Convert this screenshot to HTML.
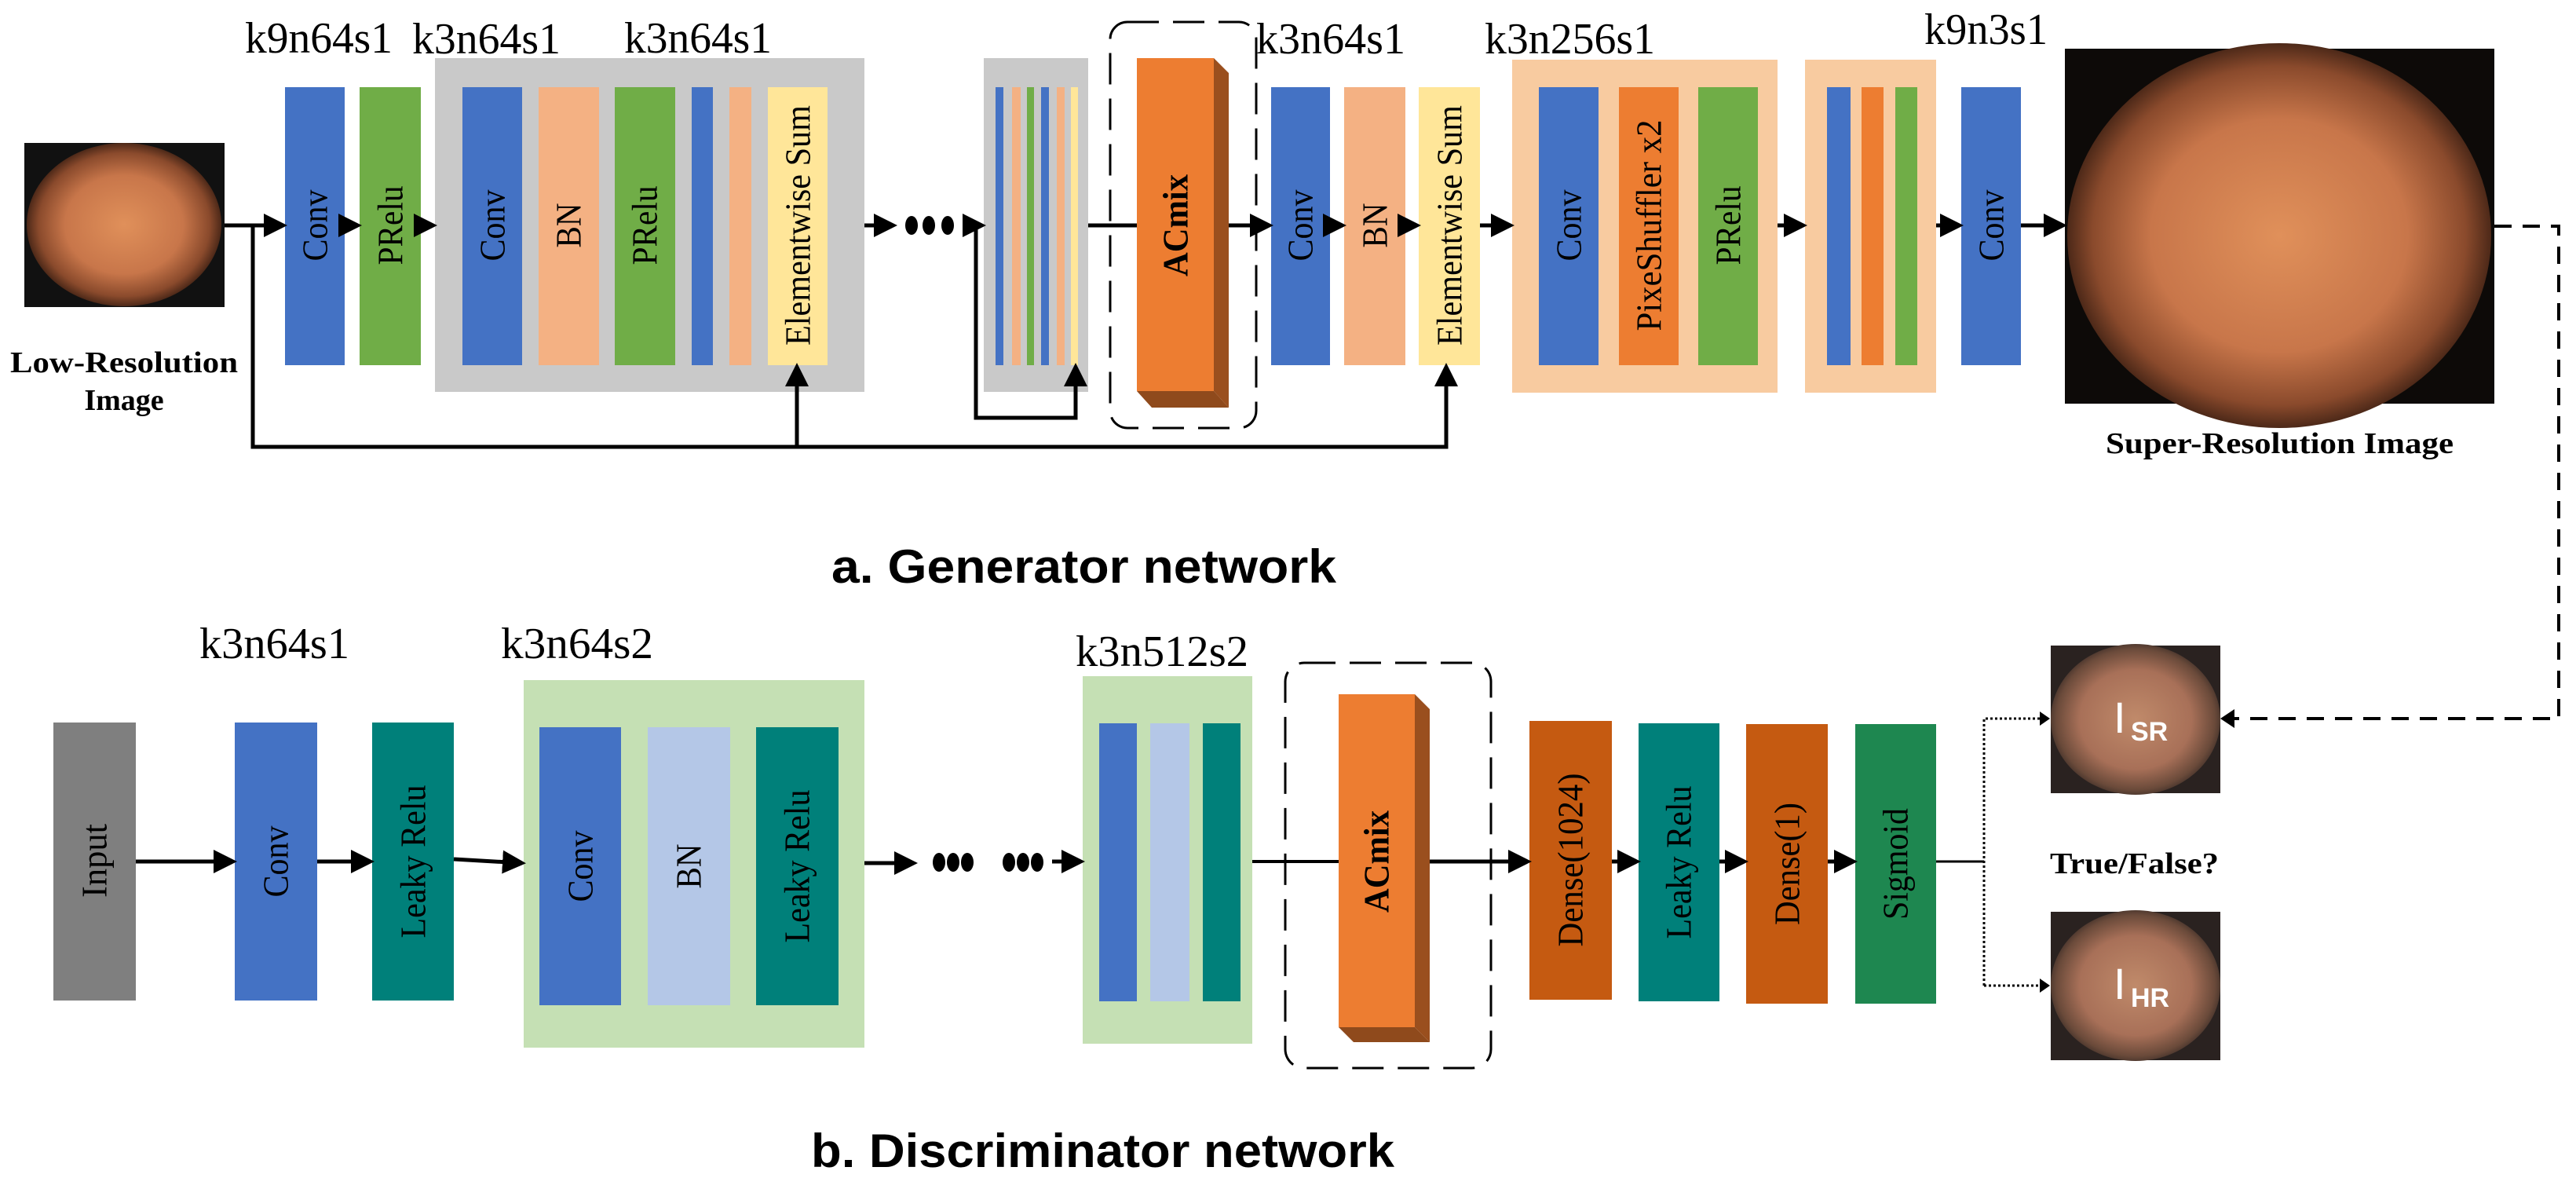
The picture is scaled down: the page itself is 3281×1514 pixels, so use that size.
<!DOCTYPE html>
<html><head><meta charset="utf-8"><style>
html,body{margin:0;padding:0;background:#fff;}
svg{display:block;}
.t{font-family:"Liberation Serif",serif;fill:#000;}
.b{font-family:"Liberation Sans",sans-serif;font-weight:bold;fill:#000;}
</style></head><body>
<svg width="3281" height="1514" viewBox="0 0 3281 1514" xmlns="http://www.w3.org/2000/svg">
<defs>
<marker id="ah" markerWidth="6" markerHeight="6" refX="5" refY="3" orient="auto" markerUnits="strokeWidth">
<path d="M0,0 L6,3 L0,6 Z" fill="#000"/></marker>
<radialGradient id="endo" cx="0.5" cy="0.5" r="0.55">
<stop offset="0" stop-color="#e0905a"/><stop offset="0.55" stop-color="#c8764a"/><stop offset="0.8" stop-color="#8a4a2c"/><stop offset="1" stop-color="#1a0d08"/></radialGradient>
<radialGradient id="endo2" cx="0.5" cy="0.5" r="0.55">
<stop offset="0" stop-color="#c08a6a"/><stop offset="0.6" stop-color="#a87058"/><stop offset="0.85" stop-color="#6a4a3a"/><stop offset="1" stop-color="#2a2220"/></radialGradient>
</defs>

<!-- ===== Generator ===== -->
<rect x="31" y="182" width="255" height="209" fill="#111"/>
<ellipse cx="158" cy="286" rx="124" ry="104" fill="url(#endo)"/>
<text class="t" font-weight="bold" font-size="38" x="158" y="474" text-anchor="middle" textLength="290" lengthAdjust="spacingAndGlyphs">Low-Resolution</text>
<text class="t" font-weight="bold" font-size="38" x="158" y="522" text-anchor="middle">Image</text>

<text class="t" font-size="56" x="312" y="67" textLength="188" lengthAdjust="spacingAndGlyphs">k9n64s1</text>
<text class="t" font-size="56" x="525" y="68" textLength="189" lengthAdjust="spacingAndGlyphs">k3n64s1</text>
<text class="t" font-size="56" x="795" y="67" textLength="188" lengthAdjust="spacingAndGlyphs">k3n64s1</text>
<text class="t" font-size="56" x="1600" y="68" textLength="190" lengthAdjust="spacingAndGlyphs">k3n64s1</text>
<text class="t" font-size="56" x="1891" y="68" textLength="217" lengthAdjust="spacingAndGlyphs">k3n256s1</text>
<text class="t" font-size="56" x="2451" y="56" textLength="157" lengthAdjust="spacingAndGlyphs">k9n3s1</text>

<rect x="363" y="111" width="76" height="354" fill="#4472c4"/>
<rect x="458" y="111" width="78" height="354" fill="#70ad47"/>
<rect x="554" y="74" width="547" height="425" fill="#c9c9c9"/>
<rect x="589" y="111" width="76" height="354" fill="#4472c4"/>
<rect x="686" y="111" width="77" height="354" fill="#f4b183"/>
<rect x="783" y="111" width="77" height="354" fill="#70ad47"/>
<rect x="881" y="111" width="27" height="354" fill="#4472c4"/>
<rect x="929" y="111" width="28" height="354" fill="#f4b183"/>
<rect x="978" y="111" width="76" height="354" fill="#ffe699"/>
<rect x="1253" y="74" width="133" height="425" fill="#c9c9c9"/>
<rect x="1268" y="111" width="10" height="354" fill="#4472c4"/>
<rect x="1289" y="111" width="11" height="354" fill="#f4b183"/>
<rect x="1308" y="111" width="9" height="354" fill="#70ad47"/>
<rect x="1326" y="111" width="10" height="354" fill="#4472c4"/>
<rect x="1346" y="111" width="10" height="354" fill="#f4b183"/>
<rect x="1364" y="111" width="9" height="354" fill="#ffe699"/>
<rect x="1414" y="28" width="186" height="517" rx="22" fill="none" stroke="#000" stroke-width="3" stroke-dasharray="40,18"/>
<polygon points="1546,74 1565,93 1565,519 1546,498" fill="#9a4f1e"/>
<polygon points="1448,498 1546,498 1565,519 1467,519" fill="#8f4a1c"/>
<rect x="1448" y="74" width="98" height="424" fill="#ed7d31"/>
<rect x="1619" y="111" width="75" height="354" fill="#4472c4"/>
<rect x="1712" y="111" width="78" height="354" fill="#f4b183"/>
<rect x="1807" y="111" width="78" height="354" fill="#ffe699"/>
<rect x="1926" y="76" width="338" height="424" fill="#f8cba0"/>
<rect x="1960" y="111" width="76" height="354" fill="#4472c4"/>
<rect x="2062" y="111" width="76" height="354" fill="#ed7d31"/>
<rect x="2163" y="111" width="76" height="354" fill="#70ad47"/>
<rect x="2299" y="76" width="167" height="424" fill="#f8cba0"/>
<rect x="2327" y="111" width="30" height="354" fill="#4472c4"/>
<rect x="2371" y="111" width="28" height="354" fill="#ed7d31"/>
<rect x="2414" y="111" width="28" height="354" fill="#70ad47"/>
<rect x="2498" y="111" width="76" height="354" fill="#4472c4"/>
<rect x="2630" y="62" width="547" height="452" fill="#0d0a08"/>
<ellipse cx="2903" cy="300" rx="270" ry="245" fill="url(#endo)"/>
<text class="t" font-weight="bold" font-size="38" x="2682" y="577" textLength="443" lengthAdjust="spacingAndGlyphs">Super-Resolution Image</text>

<g class="t" font-size="46">
<text transform="translate(401,287) rotate(-90)" text-anchor="middle" dominant-baseline="central" textLength="91" lengthAdjust="spacingAndGlyphs">Conv</text>
<text transform="translate(497,287) rotate(-90)" text-anchor="middle" dominant-baseline="central" textLength="101" lengthAdjust="spacingAndGlyphs">PRelu</text>
<text transform="translate(627,287) rotate(-90)" text-anchor="middle" dominant-baseline="central" textLength="91" lengthAdjust="spacingAndGlyphs">Conv</text>
<text transform="translate(724,287) rotate(-90)" text-anchor="middle" dominant-baseline="central" textLength="57" lengthAdjust="spacingAndGlyphs">BN</text>
<text transform="translate(821,287) rotate(-90)" text-anchor="middle" dominant-baseline="central" textLength="101" lengthAdjust="spacingAndGlyphs">PRelu</text>
<text transform="translate(1016,287) rotate(-90)" text-anchor="middle" dominant-baseline="central" textLength="306" lengthAdjust="spacingAndGlyphs">Elementwise Sum</text>
<text transform="translate(1497,287) rotate(-90)" text-anchor="middle" dominant-baseline="central" font-weight="bold" textLength="130" lengthAdjust="spacingAndGlyphs">ACmix</text>
<text transform="translate(1656,287) rotate(-90)" text-anchor="middle" dominant-baseline="central" textLength="91" lengthAdjust="spacingAndGlyphs">Conv</text>
<text transform="translate(1751,287) rotate(-90)" text-anchor="middle" dominant-baseline="central" textLength="57" lengthAdjust="spacingAndGlyphs">BN</text>
<text transform="translate(1846,287) rotate(-90)" text-anchor="middle" dominant-baseline="central" textLength="306" lengthAdjust="spacingAndGlyphs">Elementwise Sum</text>
<text transform="translate(1998,287) rotate(-90)" text-anchor="middle" dominant-baseline="central" textLength="91" lengthAdjust="spacingAndGlyphs">Conv</text>
<text transform="translate(2100,287) rotate(-90)" text-anchor="middle" dominant-baseline="central" textLength="269" lengthAdjust="spacingAndGlyphs">PixeShuffler x2</text>
<text transform="translate(2201,287) rotate(-90)" text-anchor="middle" dominant-baseline="central" textLength="101" lengthAdjust="spacingAndGlyphs">PRelu</text>
<text transform="translate(2536,287) rotate(-90)" text-anchor="middle" dominant-baseline="central" textLength="91" lengthAdjust="spacingAndGlyphs">Conv</text>
</g>

<g stroke="#000" stroke-width="5" fill="none">
<line x1="286" y1="287" x2="361" y2="287" marker-end="url(#ah)"/>
<line x1="439" y1="287" x2="456" y2="287" marker-end="url(#ah)"/>
<line x1="536" y1="287" x2="552" y2="287" marker-end="url(#ah)"/>
<line x1="1101" y1="287" x2="1138" y2="287" marker-end="url(#ah)"/>
<line x1="1230" y1="287" x2="1251" y2="287" marker-end="url(#ah)"/>
<line x1="1386" y1="287" x2="1448" y2="287"/>
<line x1="1565" y1="287" x2="1617" y2="287" marker-end="url(#ah)"/>
<line x1="1694" y1="287" x2="1710" y2="287" marker-end="url(#ah)"/>
<line x1="1790" y1="287" x2="1805" y2="287" marker-end="url(#ah)"/>
<line x1="1885" y1="287" x2="1924" y2="287" marker-end="url(#ah)"/>
<line x1="2264" y1="287" x2="2297" y2="287" marker-end="url(#ah)"/>
<line x1="2466" y1="287" x2="2496" y2="287" marker-end="url(#ah)"/>
<line x1="2574" y1="287" x2="2628" y2="287" marker-end="url(#ah)"/>
<polyline points="322,287 322,569 1842,569 1842,467" marker-end="url(#ah)"/>
<line x1="1015" y1="569" x2="1015" y2="467" marker-end="url(#ah)"/>
<polyline points="1243,287 1243,532 1370,532 1370,467" marker-end="url(#ah)"/>
</g>
<g fill="#000">
<ellipse cx="1161" cy="287" rx="8" ry="12"/><ellipse cx="1183" cy="287" rx="8" ry="12"/><ellipse cx="1207" cy="287" rx="8" ry="12"/>
</g>

<polyline points="3177,288 3259,288 3259,915 2838,915" fill="none" stroke="#000" stroke-width="4" stroke-dasharray="22,14"/>
<path d="M2828,915 L2846,903 L2846,927 Z" fill="#000"/>

<text class="b" font-size="60" x="1059" y="742" textLength="643" lengthAdjust="spacingAndGlyphs">a. Generator network</text>

<!-- ===== Discriminator ===== -->
<text class="t" font-size="56" x="254" y="838" textLength="191" lengthAdjust="spacingAndGlyphs">k3n64s1</text>
<text class="t" font-size="56" x="638" y="838" textLength="194" lengthAdjust="spacingAndGlyphs">k3n64s2</text>
<text class="t" font-size="56" x="1370" y="848" textLength="220" lengthAdjust="spacingAndGlyphs">k3n512s2</text>

<rect x="68" y="920" width="105" height="354" fill="#7f7f7f"/>
<rect x="299" y="920" width="105" height="354" fill="#4472c4"/>
<rect x="474" y="920" width="104" height="354" fill="#00807a"/>
<rect x="667" y="866" width="434" height="468" fill="#c5e0b4"/>
<rect x="687" y="926" width="104" height="354" fill="#4472c4"/>
<rect x="825" y="926" width="105" height="354" fill="#b4c7e7"/>
<rect x="963" y="926" width="105" height="354" fill="#00807a"/>
<rect x="1379" y="861" width="216" height="468" fill="#c5e0b4"/>
<rect x="1400" y="921" width="48" height="354" fill="#4472c4"/>
<rect x="1465" y="921" width="50" height="354" fill="#b4c7e7"/>
<rect x="1532" y="921" width="48" height="354" fill="#00807a"/>

<rect x="1637" y="844" width="262" height="516" rx="24" fill="none" stroke="#000" stroke-width="3" stroke-dasharray="40,18"/>
<polygon points="1802,884 1821,903 1821,1327 1802,1308" fill="#9a4f1e"/>
<polygon points="1705,1308 1802,1308 1821,1327 1724,1327" fill="#8f4a1c"/>
<rect x="1705" y="884" width="97" height="424" fill="#ed7d31"/>

<rect x="1948" y="918" width="105" height="355" fill="#c55a11"/>
<rect x="2087" y="921" width="103" height="354" fill="#00807a"/>
<rect x="2224" y="922" width="104" height="356" fill="#c55a11"/>
<rect x="2363" y="922" width="103" height="356" fill="#1e8750"/>

<g class="t" font-size="46">
<text transform="translate(120,1096) rotate(-90)" text-anchor="middle" dominant-baseline="central" textLength="94" lengthAdjust="spacingAndGlyphs">Input</text>
<text transform="translate(351,1097) rotate(-90)" text-anchor="middle" dominant-baseline="central" textLength="91" lengthAdjust="spacingAndGlyphs">Conv</text>
<text transform="translate(526,1097) rotate(-90)" text-anchor="middle" dominant-baseline="central" textLength="195" lengthAdjust="spacingAndGlyphs">Leaky Relu</text>
<text transform="translate(739,1103) rotate(-90)" text-anchor="middle" dominant-baseline="central" textLength="91" lengthAdjust="spacingAndGlyphs">Conv</text>
<text transform="translate(877,1103) rotate(-90)" text-anchor="middle" dominant-baseline="central" textLength="57" lengthAdjust="spacingAndGlyphs">BN</text>
<text transform="translate(1015,1103) rotate(-90)" text-anchor="middle" dominant-baseline="central" textLength="195" lengthAdjust="spacingAndGlyphs">Leaky Relu</text>
<text transform="translate(1753,1097) rotate(-90)" text-anchor="middle" dominant-baseline="central" font-weight="bold" textLength="130" lengthAdjust="spacingAndGlyphs">ACmix</text>
<text transform="translate(2000,1095) rotate(-90)" text-anchor="middle" dominant-baseline="central" textLength="221" lengthAdjust="spacingAndGlyphs">Dense(1024)</text>
<text transform="translate(2138,1098) rotate(-90)" text-anchor="middle" dominant-baseline="central" textLength="195" lengthAdjust="spacingAndGlyphs">Leaky Relu</text>
<text transform="translate(2276,1100) rotate(-90)" text-anchor="middle" dominant-baseline="central" textLength="156" lengthAdjust="spacingAndGlyphs">Dense(1)</text>
<text transform="translate(2414,1100) rotate(-90)" text-anchor="middle" dominant-baseline="central" textLength="142" lengthAdjust="spacingAndGlyphs">Sigmoid</text>
</g>

<g stroke="#000" stroke-width="5" fill="none">
<line x1="173" y1="1097" x2="297" y2="1097" marker-end="url(#ah)"/>
<line x1="404" y1="1097" x2="472" y2="1097" marker-end="url(#ah)"/>
<line x1="578" y1="1094" x2="665" y2="1099" marker-end="url(#ah)"/>
<line x1="1101" y1="1099" x2="1164" y2="1099" marker-end="url(#ah)"/>
<line x1="1340" y1="1097" x2="1377" y2="1097" marker-end="url(#ah)"/>
<line x1="1595" y1="1097" x2="1705" y2="1097" stroke-width="4"/>
<line x1="1821" y1="1097" x2="1946" y2="1097" marker-end="url(#ah)"/>
<line x1="2053" y1="1097" x2="2085" y2="1097" marker-end="url(#ah)"/>
<line x1="2190" y1="1097" x2="2222" y2="1097" marker-end="url(#ah)"/>
<line x1="2328" y1="1097" x2="2361" y2="1097" marker-end="url(#ah)"/>
<line x1="2466" y1="1097" x2="2527" y2="1097" stroke-width="3"/>
</g>
<g fill="#000">
<ellipse cx="1196" cy="1098" rx="8" ry="12"/><ellipse cx="1214" cy="1098" rx="8" ry="12"/><ellipse cx="1232" cy="1098" rx="8" ry="12"/>
<ellipse cx="1285" cy="1098" rx="8" ry="12"/><ellipse cx="1303" cy="1098" rx="8" ry="12"/><ellipse cx="1321" cy="1098" rx="8" ry="12"/>
</g>
<g stroke="#000" stroke-width="3" fill="none" stroke-dasharray="3,3">
<polyline points="2527,1255 2527,915 2600,915"/>
<line x1="2527" y1="1255" x2="2600" y2="1255"/>
</g>
<path d="M2611,915 L2598,906 L2598,924 Z" fill="#000"/>
<path d="M2611,1255 L2598,1246 L2598,1264 Z" fill="#000"/>

<rect x="2612" y="822" width="216" height="188" fill="#2a2220"/>
<ellipse cx="2720" cy="916" rx="108" ry="96" fill="url(#endo2)"/>
<text x="2692" y="933" font-family="Liberation Sans,sans-serif" font-size="56" fill="#fff">I</text>
<text x="2714" y="943" font-family="Liberation Sans,sans-serif" font-weight="bold" font-size="34" fill="#fff">SR</text>
<rect x="2612" y="1161" width="216" height="189" fill="#2a2220"/>
<ellipse cx="2720" cy="1255" rx="108" ry="96" fill="url(#endo2)"/>
<text x="2692" y="1272" font-family="Liberation Sans,sans-serif" font-size="56" fill="#fff">I</text>
<text x="2714" y="1282" font-family="Liberation Sans,sans-serif" font-weight="bold" font-size="34" fill="#fff">HR</text>

<text class="t" font-weight="bold" font-size="38" x="2611" y="1112" textLength="215" lengthAdjust="spacingAndGlyphs">True/False?</text>

<text class="b" font-size="60" x="1033" y="1486" textLength="743" lengthAdjust="spacingAndGlyphs">b. Discriminator network</text>
</svg>
</body></html>
